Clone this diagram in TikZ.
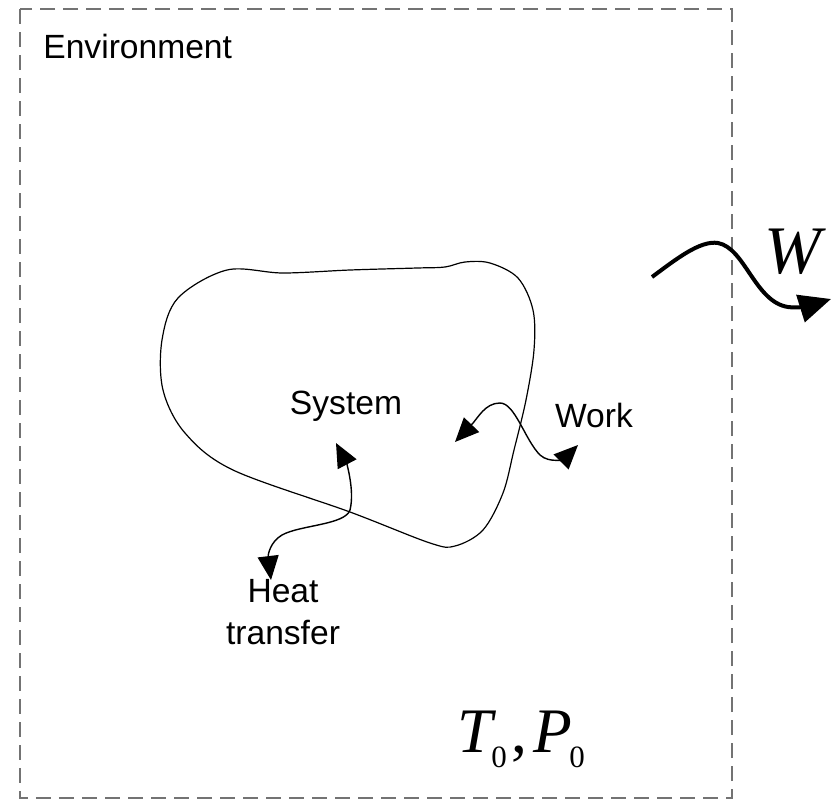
\documentclass[tikz,border=0pt]{standalone}
\usepackage{fontspec}
\setmainfont{Liberation Sans}
\newfontfamily\serifface{Liberation Serif}
\usetikzlibrary{arrows.meta}

\begin{document}
\begin{tikzpicture}[x=.5pt,y=-.5pt,font=\fontsize{16.8}{21}\selectfont,
 txt/.style={inner sep=0pt},
 flow/.style={line width=.7pt,{Triangle[length=12pt,width=10.5pt]}-{Triangle[length=12pt,width=10.5pt]}},
 workflow/.style={line width=2pt,-{Triangle[length=16pt,width=14pt]}}]
\useasboundingbox (0,0) rectangle (832,800);
\draw[black!55,line width=1pt,dash pattern=on 7.5pt off 4pt] (20,9) rectangle (732,798);
\draw[line width=.6pt] plot[smooth cycle,tension=.55] coordinates {(227,270) (283,273) (350,270) (417,268) (445,267) (465,262) (490,263) (518,278) (533,310) (534,350) (526,400) (514,450) (503,493) (483,530) (455,546) (430,543) (350,512) (233,470) (185,433) (163,390) (162,340) (178,298)};
\node[txt,anchor=base west] (env) at (43,58) {Environment};
\node[txt,anchor=base] (sys) at (346,414) {System};
\node[txt,anchor=base] (work) at (594,427) {Work};
\node[txt,anchor=base,align=center] (heat) at (283,644) {Heat\\transfer};
\node[txt,anchor=base west,font=\serifface\itshape\fontsize{34}{40}\selectfont] (W) at (764,273) {W};
\node[txt,anchor=base west,font=\serifface\fontsize{31.7}{36}\selectfont] (TP) at (457,752) {\textit{T}\kern-2.5pt\raisebox{-7.5pt}{\fontsize{15.5}{16}\selectfont 0}\kern2.5pt,\kern3pt\textit{P}\kern-1.5pt\raisebox{-7.5pt}{\fontsize{15.5}{16}\selectfont 0}};
\coordinate (workL) at (455,442);
\coordinate (workR) at (578,445);
\coordinate (heatU) at (336,443);
\coordinate (heatD) at (271,580);
\coordinate (Wstart) at (652,277);
\coordinate (Wtip) at (831,299);
\draw[flow] (workL) .. controls (478,418) and (485,403) .. (500,403) .. controls (515,403) and (525,440) .. (540,455) .. controls (550,464) and (565,458) .. (workR);
\draw[flow] (heatU) .. controls (346,462) and (355,490) .. (350,510) .. controls (345,525) and (300,525) .. (282,535) .. controls (270,542) and (268,555) .. (heatD);
\draw[workflow] (Wstart) .. controls (675,260) and (700,240) .. (718,243) .. controls (745,248) and (755,302) .. (788,307) .. controls (800,309) and (815,304) .. (Wtip);
\end{tikzpicture}
\end{document}
